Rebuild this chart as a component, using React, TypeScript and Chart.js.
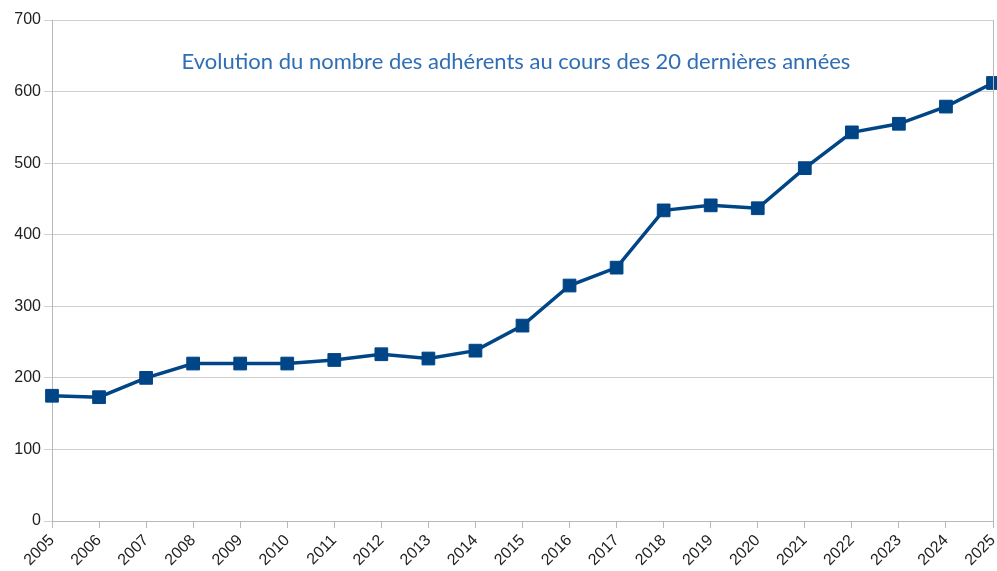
import React, { useEffect, useRef } from "react";
import { Chart, registerables } from "chart.js";

Chart.register(...registerables);

const years = [
  "2005", "2006", "2007", "2008", "2009", "2010", "2011", "2012", "2013", "2014", "2015",
  "2016", "2017", "2018", "2019", "2020", "2021", "2022", "2023", "2024", "2025",
];
const adherents = [
  175, 173, 200, 220, 220, 220, 225, 233, 227, 238, 273,
  329, 354, 434, 441, 437, 493, 543, 555, 579, 612,
];
const yMin = 0;
const yMax = 700;
const yStep = 100;
const titleText = "Evolution du nombre des adhérents au cours des 20 dernières années";

const overlayPlugin = {
  id: "overlay",
  afterDraw(chart: any) {
    const { ctx, chartArea } = chart;
    ctx.save();
    ctx.strokeStyle = "#b8b8b8";
    ctx.lineWidth = 1;
    ctx.beginPath();
    ctx.moveTo(chartArea.right + 0.5, chartArea.top);
    ctx.lineTo(chartArea.right + 0.5, chartArea.bottom);
    ctx.stroke();
    ctx.font = '22px Lato';
    ctx.fillStyle = "#2f6eb5";
    ctx.textAlign = "center";
    ctx.textBaseline = "middle";
    ctx.fillText(titleText, 516, chartArea.top + 42);
    ctx.restore();
  },
};

export default function App() {
  const canvasRef = useRef<HTMLCanvasElement | null>(null);

  useEffect(() => {
    const canvas = canvasRef.current;
    if (!canvas) return;
    const chart = new Chart(canvas, {
      type: "line",
      data: {
        labels: years,
        datasets: [
          {
            label: "Adhérents",
            data: adherents,
            borderColor: "#004586",
            backgroundColor: "#004586",
            borderWidth: 3.5,
            pointStyle: "rect",
            pointRadius: 9,
            pointBorderWidth: 1,
            pointBorderColor: "#004586",
            pointBackgroundColor: "#004586",
            tension: 0,
            clip: false as any,
          },
        ],
      },
      options: {
        responsive: false,
        animation: false,
        devicePixelRatio: 1,
        layout: { padding: { top: 20, right: 0, left: 0, bottom: 0 } },
        plugins: {
          legend: { display: false },
          title: { display: false },
          tooltip: { enabled: false },
        },
        scales: {
          x: {
            type: "category",
            offset: false,
            afterFit: (scale: any) => {
              scale.height = 50;
              scale.paddingRight = 0;
              scale.paddingLeft = 0;
            },
            grid: {
              display: true,
              drawOnChartArea: false,
              drawTicks: true,
              tickLength: 7,
              color: "#b8b8b8",
            },
            border: { display: true, color: "#b8b8b8", width: 1 },
            ticks: {
              autoSkip: false,
              maxRotation: 45,
              minRotation: 45,
              padding: 3,
              color: "#222222",
              font: { family: '"Liberation Sans", Arial, sans-serif', size: 16 },
            },
          },
          y: {
            min: yMin,
            max: yMax,
            afterFit: (scale: any) => {
              scale.width = 52;
              scale.paddingTop = 0;
              scale.paddingBottom = 0;
            },
            grid: {
              color: "#d0d0d0",
              tickLength: 8,
              lineWidth: 1,
            },
            border: { display: true, color: "#b8b8b8", width: 1 },
            ticks: {
              stepSize: yStep,
              padding: 3,
              color: "#222222",
              font: { family: '"Liberation Sans", Arial, sans-serif', size: 16 },
            },
          },
        },
      },
      plugins: [overlayPlugin],
    });
    return () => chart.destroy();
  }, []);

  return (
    <div style={{ position: "absolute", left: 0, top: 0, width: 997, height: 571, overflow: "hidden", background: "#ffffff" }}>
      <canvas ref={canvasRef} width={1003} height={571} style={{ width: 1003, height: 571, display: "block" }} />
    </div>
  );
}
